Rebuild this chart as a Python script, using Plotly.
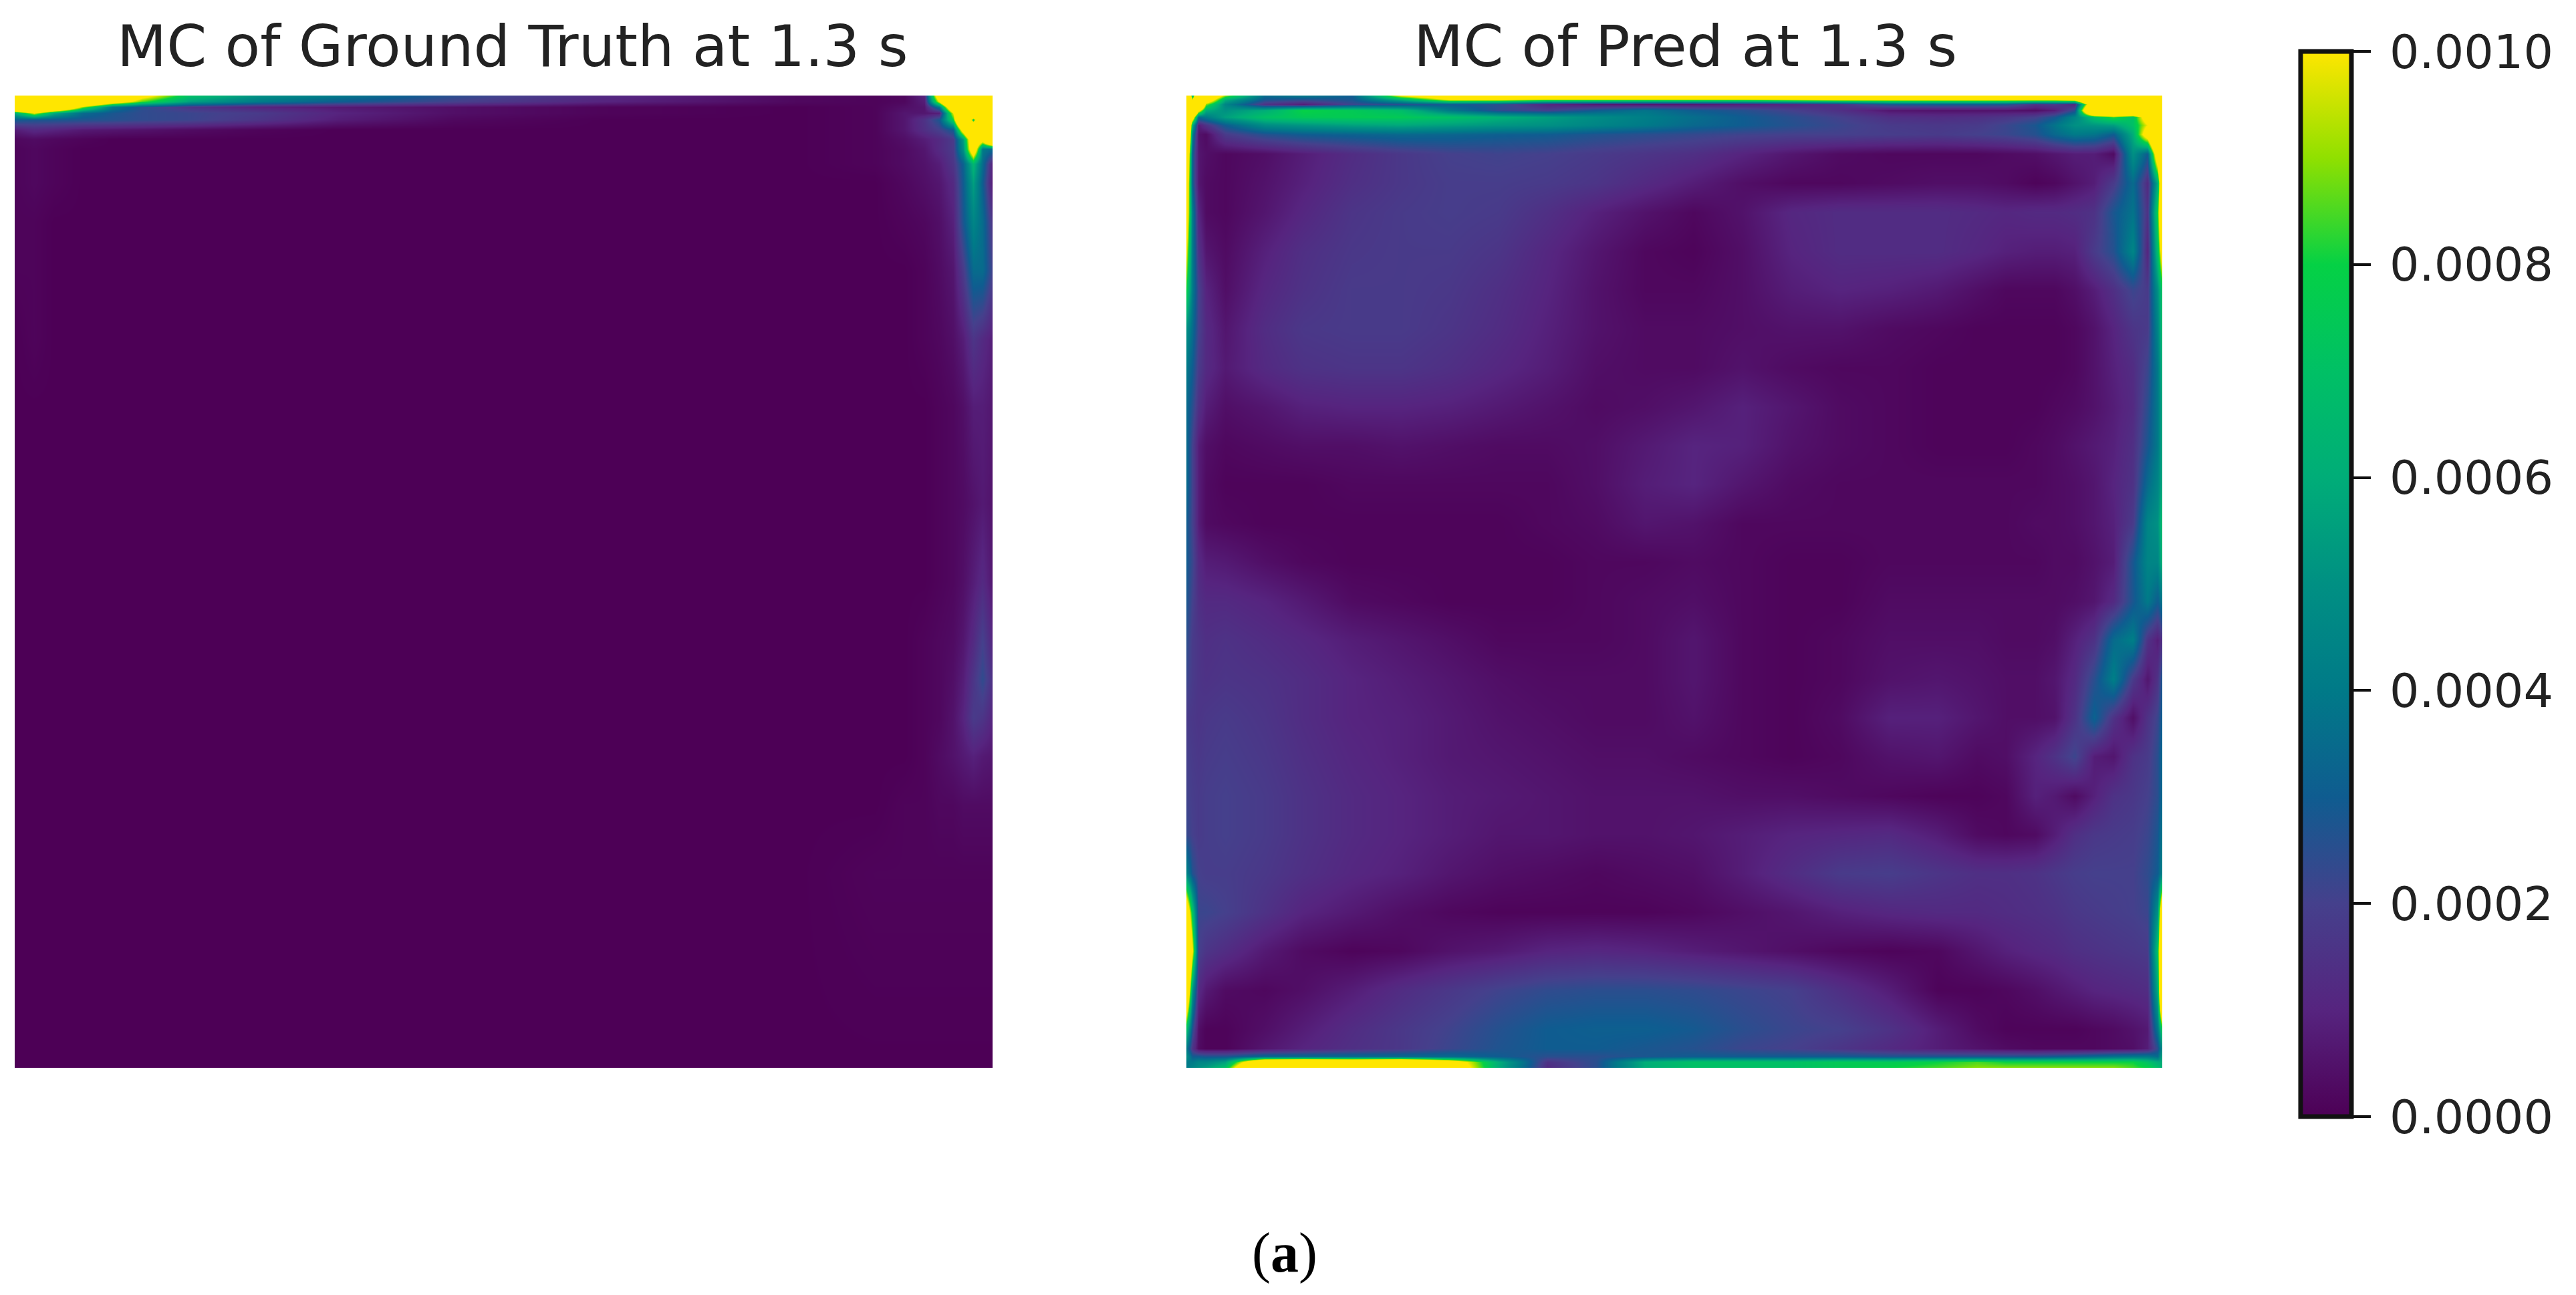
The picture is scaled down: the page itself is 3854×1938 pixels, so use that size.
import plotly.graph_objects as go

UNIT = 1e-5  # grid values below are in units of 0.00001

TICKS = [0.0, 0.0002, 0.0004, 0.0006, 0.0008, 0.001]
TITLE_TRUTH = "MC of Ground Truth at 1.3 s"
TITLE_PRED = "MC of Pred at 1.3 s"
CAPTION = "(<b>a</b>)"

truth_x = [0, 2, 4, 7, 10, 13, 18, 25, 33, 45, 60, 80, 88, 91, 93, 94.5, 96, 97, 98, 99, 100]
truth_y = [0, .6, 1.2, 1.8, 2.5, 3.5, 4.5, 5.5, 7, 9, 13, 18, 25, 32, 42, 50, 56, 60, 64, 68, 73, 80, 100]
truth_z = [
    [200, 200, 200, 200, 170, 110, 70, 50, 40, 25, 12, 2, 1, 2, 10, 130, 200, 200, 200, 200, 200],
    [200, 200, 200, 170, 120, 85, 55, 40, 30, 20, 10, 2, 1, 2, 8, 100, 200, 200, 200, 200, 200],
    [200, 200, 170, 90, 40, 25, 16, 10, 7, 4, 1, 0, 1, 4, 6, 40, 150, 200, 200, 200, 200],
    [60, 100, 60, 35, 28, 24, 22, 18, 10, 4, 1, 0, 1, 6, 6, 8, 100, 200, 200, 200, 200],
    [30, 28, 28, 27, 26, 24, 22, 16, 8, 2, 0, 0, 1, 6, 15, 28, 80, 200, 70, 200, 200],
    [8, 12, 10, 7, 6, 5, 3, 1, 0, 0, 0, 0, 1, 6, 14, 20, 30, 120, 200, 200, 200],
    [2, 3, 2, 1, 0, 0, 0, 0, 0, 0, 0, 0, 1, 4, 8, 12, 18, 55, 140, 120, 200],
    [1, 2, 1, 0, 0, 0, 0, 0, 0, 0, 0, 0, 1, 3, 6, 12, 18, 50, 130, 40, 35],
    [1, 2, 1, 0, 0, 0, 0, 0, 0, 0, 0, 0, 1, 3, 5, 8, 16, 32, 65, 35, 8],
    [1, 2, 1, 0, 0, 0, 0, 0, 0, 0, 0, 0, 0, 2, 4, 6, 12, 30, 55, 30, 6],
    [1, 1, 0, 0, 0, 0, 0, 0, 0, 0, 0, 0, 0, 1, 2, 4, 9, 28, 45, 35, 15],
    [1, 1, 0, 0, 0, 0, 0, 0, 0, 0, 0, 0, 0, 0, 1, 3, 6, 18, 35, 35, 20],
    [0, 1, 0, 0, 0, 0, 0, 0, 0, 0, 0, 0, 0, 0, 1, 2, 4, 8, 16, 12, 8],
    [0, 0, 0, 0, 0, 0, 0, 0, 0, 0, 0, 0, 0, 0, 0, 1, 2, 4, 8, 8, 6],
    [0, 0, 0, 0, 0, 0, 0, 0, 0, 0, 0, 0, 0, 0, 0, 1, 2, 3, 5, 7, 5],
    [0, 0, 0, 0, 0, 0, 0, 0, 0, 0, 0, 0, 0, 0, 0, 1, 2, 4, 8, 12, 6],
    [0, 0, 0, 0, 0, 0, 0, 0, 0, 0, 0, 0, 0, 0, 1, 2, 3, 6, 12, 20, 10],
    [0, 0, 0, 0, 0, 0, 0, 0, 0, 0, 0, 0, 0, 0, 1, 2, 4, 8, 16, 24, 14],
    [0, 0, 0, 0, 0, 0, 0, 0, 0, 0, 0, 0, 0, 0, 1, 2, 5, 10, 18, 16, 10],
    [0, 0, 0, 0, 0, 0, 0, 0, 0, 0, 0, 0, 0, 0, 1, 3, 5, 7, 9, 7, 6],
    [0, 0, 0, 0, 0, 0, 0, 0, 0, 0, 0, 0, 0, 1, 1, 2, 2, 3, 3, 3, 3],
    [0, 0, 0, 0, 0, 0, 0, 0, 0, 0, 0, 0, 1, 1, 1, 1, 1, 1, 1, 1, 1],
    [0, 0, 0, 0, 0, 0, 0, 0, 0, 0, 0, 0, 0, 0, 0, 0, 0, 0, 0, 0, 0],
]

pred_x = [0, .6, 1.2, 2, 4, 8, 12, 17, 22, 27, 32, 37, 42, 47, 52, 57, 62, 67, 72, 77, 81, 84, 87, 89, 91, 93, 95, 97, 98.5, 99.5, 100]
pred_y = [0, .4, .9, 1.5, 2.2, 3, 4, 6, 9, 12, 16, 20, 24, 28, 32, 36, 40, 44, 48, 52, 56, 60, 64, 68, 72, 76, 80, 84, 88, 92, 96, 98, 98.8, 99.4, 100]
pred_z = [
    [200, 60, 200, 150, 90, 35, 40, 30, 100, 130, 150, 150, 150, 150, 150, 150, 150, 150, 150, 150, 150, 150, 150, 150, 130, 200, 200, 120, 200, 200, 200],
    [200, 100, 200, 130, 60, 28, 25, 28, 60, 100, 100, 90, 90, 90, 90, 90, 95, 100, 100, 100, 100, 100, 100, 100, 110, 200, 200, 200, 200, 200, 200],
    [200, 200, 200, 90, 45, 15, 8, 22, 25, 30, 25, 10, 6, 5, 6, 8, 10, 15, 28, 30, 30, 28, 15, 18, 10, 150, 200, 200, 200, 200, 200],
    [200, 200, 110, 60, 50, 60, 80, 75, 68, 40, 24, 20, 30, 38, 30, 26, 20, 14, 6, 5, 5, 5, 4, 8, 25, 200, 200, 200, 200, 200, 200],
    [200, 120, 35, 40, 55, 70, 75, 76, 75, 70, 62, 55, 48, 42, 36, 30, 25, 20, 14, 13, 14, 16, 20, 28, 45, 70, 85, 70, 120, 200, 200],
    [200, 60, 8, 15, 30, 48, 52, 56, 58, 55, 52, 50, 45, 40, 34, 30, 26, 22, 18, 17, 18, 22, 28, 38, 50, 52, 55, 70, 100, 200, 200],
    [200, 40, 5, 3, 18, 26, 30, 32, 34, 33, 31, 30, 27, 25, 23, 21, 20, 20, 19, 18, 20, 22, 26, 34, 40, 38, 30, 60, 120, 200, 200],
    [150, 30, 6, 4, 2, 4, 8, 13, 17, 20, 21, 20, 18, 16, 14, 10, 6, 3, 2, 2, 2, 3, 4, 6, 8, 8, 3, 50, 30, 130, 200],
    [130, 30, 6, 3, 2, 5, 9, 14, 17, 19, 19, 18, 16, 12, 8, 4, 2, 2, 3, 4, 4, 3, 1, 2, 5, 8, 18, 35, 12, 60, 170],
    [120, 40, 10, 3, 2, 6, 11, 16, 18, 19, 18, 14, 9, 5, 2, 5, 11, 13, 13, 13, 12, 11, 12, 12, 13, 15, 28, 38, 15, 80, 170],
    [100, 40, 15, 6, 3, 9, 14, 17, 18, 18, 16, 11, 6, 2, 1, 4, 10, 13, 13, 13, 11, 9, 8, 8, 9, 18, 26, 45, 10, 70, 120],
    [80, 40, 20, 10, 4, 11, 15, 18, 18, 17, 14, 10, 5, 2, 2, 4, 8, 10, 9, 7, 4, 2, 2, 2, 4, 8, 14, 22, 18, 50, 75],
    [50, 35, 20, 12, 6, 13, 17, 18, 18, 16, 13, 9, 5, 3, 3, 4, 5, 5, 3, 2, 1, 1, 1, 1, 2, 5, 10, 16, 18, 45, 70],
    [40, 30, 18, 12, 7, 12, 15, 16, 16, 14, 11, 8, 4, 3, 3, 5, 3, 2, 2, 1, 1, 1, 1, 1, 2, 5, 9, 13, 22, 40, 65],
    [35, 25, 14, 8, 4, 6, 9, 10, 10, 9, 7, 5, 3, 4, 6, 9, 6, 3, 2, 1, 1, 1, 1, 2, 3, 5, 8, 12, 25, 40, 60],
    [35, 20, 8, 4, 2, 3, 4, 4, 5, 4, 3, 3, 4, 7, 10, 9, 5, 3, 2, 1, 1, 1, 2, 3, 5, 7, 9, 14, 28, 40, 60],
    [35, 20, 8, 3, 1, 1, 1, 2, 2, 2, 2, 2, 4, 8, 10, 6, 3, 2, 2, 2, 2, 2, 2, 3, 4, 6, 10, 15, 35, 45, 60],
    [30, 20, 8, 3, 2, 1, 1, 1, 1, 1, 1, 2, 3, 6, 5, 2, 2, 2, 2, 2, 2, 2, 3, 3, 4, 6, 9, 18, 45, 50, 70],
    [30, 22, 12, 8, 7, 4, 2, 1, 1, 1, 1, 1, 2, 2, 3, 2, 1, 1, 2, 2, 2, 2, 2, 3, 3, 5, 8, 28, 45, 45, 65],
    [28, 20, 14, 12, 12, 10, 7, 3, 2, 1, 1, 1, 2, 3, 4, 2, 1, 1, 3, 3, 3, 3, 3, 3, 4, 6, 12, 28, 40, 30, 40],
    [25, 18, 16, 14, 15, 13, 11, 8, 6, 4, 2, 2, 2, 3, 6, 2, 1, 2, 4, 4, 4, 3, 3, 4, 9, 15, 35, 42, 15, 8, 15],
    [22, 18, 16, 15, 16, 15, 13, 10, 8, 6, 4, 3, 3, 3, 6, 2, 1, 2, 5, 6, 5, 4, 4, 6, 12, 25, 42, 18, 6, 15, 30],
    [18, 17, 16, 17, 18, 16, 13, 10, 9, 7, 5, 4, 3, 3, 5, 2, 1, 3, 9, 9, 6, 4, 4, 5, 15, 32, 15, 4, 15, 22, 32],
    [20, 18, 17, 18, 19, 17, 14, 11, 9, 7, 6, 5, 4, 4, 3, 2, 1, 2, 5, 6, 3, 4, 10, 15, 22, 8, 6, 15, 18, 25, 35],
    [21, 19, 18, 19, 20, 18, 15, 12, 10, 8, 7, 6, 5, 5, 5, 4, 4, 3, 2, 1, 1, 2, 9, 7, 3, 9, 15, 17, 20, 25, 35],
    [23, 20, 18, 19, 20, 18, 15, 12, 10, 8, 6, 6, 5, 5, 6, 8, 10, 11, 12, 8, 3, 2, 3, 8, 14, 17, 18, 19, 22, 28, 40],
    [45, 26, 20, 19, 19, 17, 14, 11, 9, 6, 4, 3, 2, 3, 4, 8, 13, 18, 19, 16, 14, 14, 15, 17, 19, 20, 20, 20, 24, 30, 45],
    [130, 70, 22, 22, 20, 15, 10, 7, 4, 2, 1, 1, 1, 1, 2, 4, 6, 9, 11, 12, 12, 13, 14, 15, 17, 18, 19, 20, 22, 50, 150],
    [180, 100, 20, 16, 13, 7, 3, 1, 2, 5, 7, 10, 11, 10, 8, 6, 4, 2, 1, 2, 6, 9, 11, 12, 14, 15, 16, 17, 18, 70, 200],
    [150, 50, 12, 7, 3, 2, 4, 8, 13, 17, 21, 24, 25, 25, 24, 22, 20, 14, 8, 1, 1, 2, 4, 6, 8, 10, 11, 12, 13, 60, 200],
    [70, 25, 4, 1, 1, 4, 8, 13, 17, 21, 26, 30, 31, 31, 29, 25, 22, 20, 15, 8, 3, 1, 1, 1, 1, 2, 3, 5, 7, 40, 80],
    [40, 15, 3, 1, 1, 6, 10, 14, 17, 22, 27, 30, 30, 28, 26, 22, 20, 16, 12, 8, 5, 3, 2, 2, 2, 2, 3, 4, 8, 25, 50],
    [50, 30, 30, 28, 28, 35, 35, 35, 35, 35, 30, 25, 25, 28, 30, 30, 30, 30, 28, 28, 28, 28, 28, 30, 32, 35, 38, 40, 40, 35, 60],
    [40, 40, 45, 45, 55, 150, 160, 150, 160, 120, 60, 15, 25, 60, 70, 70, 70, 75, 75, 80, 85, 80, 80, 80, 80, 80, 80, 80, 70, 60, 60],
    [40, 45, 50, 55, 70, 200, 200, 200, 200, 130, 60, 12, 25, 60, 70, 70, 70, 75, 80, 85, 90, 90, 90, 90, 90, 90, 90, 85, 80, 70, 60],
]
assert all(len(r) == len(pred_x) for r in pred_z) and len(pred_z) == len(pred_y)
assert all(len(r) == len(truth_x) for r in truth_z) and len(truth_z) == len(truth_y)

COLORS = [
    [0.0, "#4d0056"], [0.1, "#56247f"], [0.2, "#45408c"], [0.3, "#0f5c90"],
    [0.4, "#007a88"], [0.5, "#009083"], [0.6, "#00ad78"], [0.7, "#00c065"],
    [0.8, "#05d145"], [0.9, "#90e000"], [1.0, "#ffe600"],
]

W, H = 3854, 1938
OFF = 8  # the page's own body margin shifts the whole figure by this much
def px(v):
    return (v - OFF) / W
def py(v):
    return 1 - (v - OFF) / H
def scaled(rows):
    return [[v * UNIT for v in r] for r in rows]

fig = go.Figure()
fig.add_trace(go.Heatmap(x=truth_x, y=truth_y, z=scaled(truth_z), coloraxis="coloraxis",
                         zsmooth="best", xaxis="x", yaxis="y"))
fig.add_trace(go.Heatmap(x=pred_x, y=pred_y, z=scaled(pred_z), coloraxis="coloraxis",
                         zsmooth="best", xaxis="x2", yaxis="y2"))

hidden = dict(visible=False, range=[0, 100], fixedrange=True)
hiddeny = dict(visible=False, range=[100, 0], fixedrange=True)
top, bot = 143, 1598
fig.update_layout(
    width=W, height=H, margin=dict(l=0, r=0, t=0, b=0),
    paper_bgcolor="white", plot_bgcolor="white",
    xaxis=dict(domain=[px(22), px(1485)], **hidden),
    yaxis=dict(domain=[py(bot), py(top)], **hiddeny),
    xaxis2=dict(domain=[px(1775), px(3235)], **hidden),
    yaxis2=dict(domain=[py(bot), py(top)], **hiddeny),
    coloraxis=dict(
        cmin=0, cmax=0.001, colorscale=COLORS,
        colorbar=dict(
            x=px(3442), xanchor="left", xpad=0, ypad=0,
            y=py(77), yanchor="top", len=1594, lenmode="pixels",
            thickness=76, thicknessmode="pixels",
            outlinewidth=7, outlinecolor="#111111",
            tickmode="array", tickvals=TICKS, ticktext=["\u2009%.4f" % t for t in TICKS],
            ticks="outside", ticklen=26, tickwidth=4, tickcolor="#111111",
            tickfont=dict(family="DejaVu Sans", size=70, color="#222222"),
        ),
    ),
    annotations=[
        dict(text=TITLE_TRUTH, x=px(766), y=py(69), xref="paper", yref="paper",
             xanchor="center", yanchor="middle", showarrow=False,
             font=dict(family="DejaVu Sans", size=86, color="#222222")),
        dict(text=TITLE_PRED, x=px(2521), y=py(69), xref="paper", yref="paper",
             xanchor="center", yanchor="middle", showarrow=False,
             font=dict(family="DejaVu Sans", size=86, color="#222222")),
        dict(text=CAPTION, x=px(1922), y=py(1875), xref="paper", yref="paper",
             xanchor="center", yanchor="middle", showarrow=False,
             font=dict(family="Liberation Serif", size=84, color="black")),
    ],
)
fig.write_html("out.html")
